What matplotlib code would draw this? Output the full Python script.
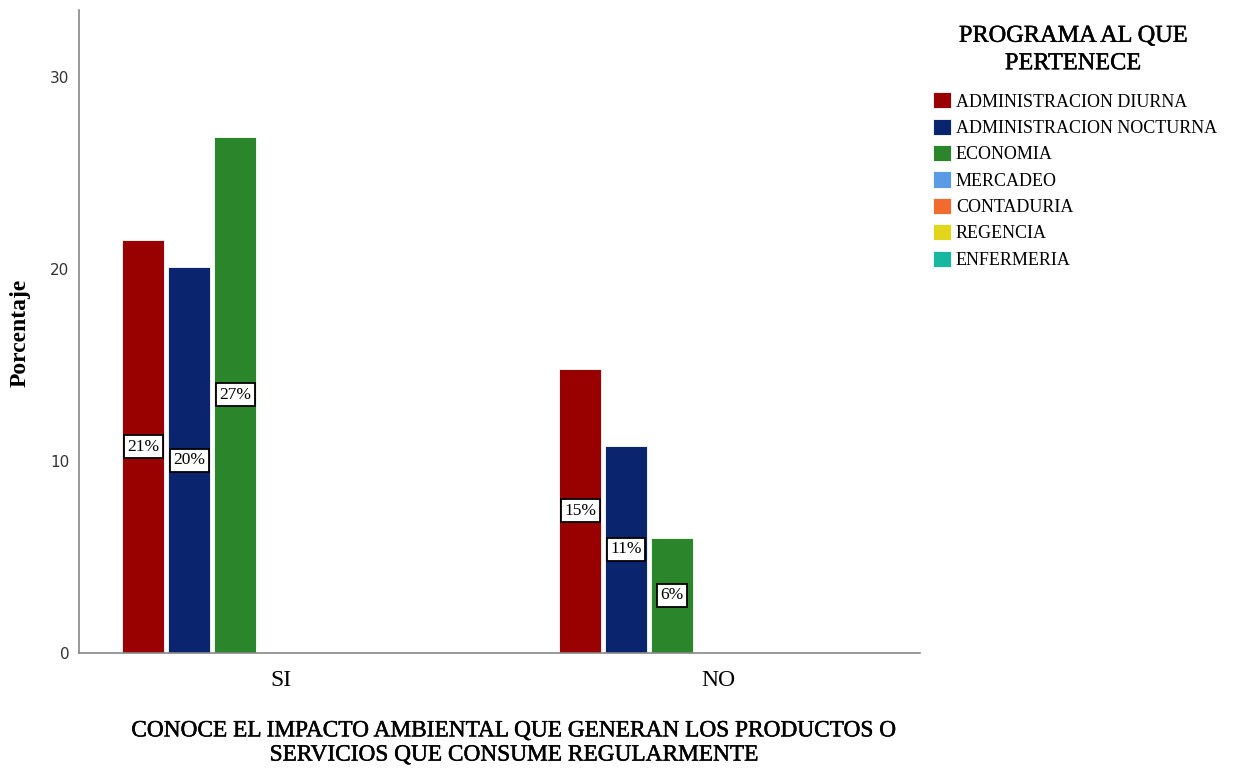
import matplotlib
matplotlib.use("Agg")
import matplotlib.pyplot as plt
import matplotlib.patheffects as pe
import numpy as np

# Datos
categorias = ["SI", "NO"]
programas = ["ADMINISTRACION DIURNA", "ADMINISTRACION NOCTURNA", "ECONOMIA",
             "MERCADEO", "CONTADURIA", "REGENCIA", "ENFERMERIA"]
colores = ["#990000", "#0b246e", "#2b862b", "#5b9be6", "#f26a2e", "#e3d519", "#17b8a0"]
porcentajes = [
    [21.5, 14.8],   # ADMINISTRACION DIURNA
    [20.1, 10.8],   # ADMINISTRACION NOCTURNA
    [26.9, 6.0],    # ECONOMIA
    [0, 0],
    [0, 0],
    [0, 0],
    [0, 0],
]
etiquetas = [
    ["21%", "15%"],
    ["20%", "11%"],
    ["27%", "6%"],
    ["", ""],
    ["", ""],
    ["", ""],
    ["", ""],
]

serif = "Liberation Serif"
grueso = [pe.withStroke(linewidth=0.35, foreground="black")]

fig = plt.figure(figsize=(12.33, 7.71), dpi=100)
ax = fig.add_axes([79 / 1233, 1 - 653 / 771, (920 - 79) / 1233, (653 - 10) / 771])

x = np.arange(len(categorias))
paso = 0.105
ancho = 0.096
n = len(programas)
for i, (prog, col) in enumerate(zip(programas, colores)):
    pos = x + (i - (n - 1) / 2) * paso
    bars = ax.bar(pos, porcentajes[i], width=ancho, color=col, edgecolor="white",
                  linewidth=0.6, label=prog, zorder=2)
    for b, txt in zip(bars, etiquetas[i]):
        if txt:
            ax.text(b.get_x() + b.get_width() / 2, b.get_height() / 2, txt,
                    ha="center", va="center", fontsize=12.5, family=serif,
                    bbox=dict(boxstyle="square,pad=0.2", fc="white", ec="black", lw=1.3),
                    zorder=3)

ax.set_xlim(-0.462, 1.462)
ax.set_ylim(0, 33.5)
ax.set_yticks([0, 10, 20, 30])
ax.set_xticks(x)
ax.set_xticklabels(categorias, family=serif, fontsize=17)
ax.tick_params(axis="y", length=0, labelsize=11, labelcolor="#333333", pad=7)
ax.tick_params(axis="x", length=0, pad=12)

for s in ["top", "right"]:
    ax.spines[s].set_visible(False)
for s in ["left", "bottom"]:
    ax.spines[s].set_color("#888888")
    ax.spines[s].set_linewidth(1.2)

fig.text(20 / 1233, 1 - 333 / 771, "Porcentaje", rotation=90, ha="center", va="center",
         family=serif, fontsize=17, fontweight="bold")
fig.text(515 / 1233, 1 - 743 / 771,
         "CONOCE EL IMPACTO AMBIENTAL QUE GENERAN LOS PRODUCTOS O\nSERVICIOS QUE CONSUME REGULARMENTE",
         ha="center", va="center", family=serif, fontsize=16.8, linespacing=1.2,
         path_effects=grueso)

# titulo de la leyenda aparte para controlar la separacion
fig.text(1073 / 1233, 1 - 50 / 771, "PROGRAMA AL QUE\nPERTENECE", ha="center", va="center",
         multialignment="center", family=serif, fontsize=17.5, linespacing=1.4,
         path_effects=grueso)

leg = ax.legend(loc="upper left", bbox_to_anchor=(917 / 1233, 1 - 76 / 771),
                bbox_transform=fig.transFigure, frameon=False,
                prop={"family": serif, "size": 13}, handlelength=1.0, handleheight=1.0,
                handletextpad=0.25, labelspacing=0.45)

fig.savefig("out.png", dpi=100, facecolor="white")
